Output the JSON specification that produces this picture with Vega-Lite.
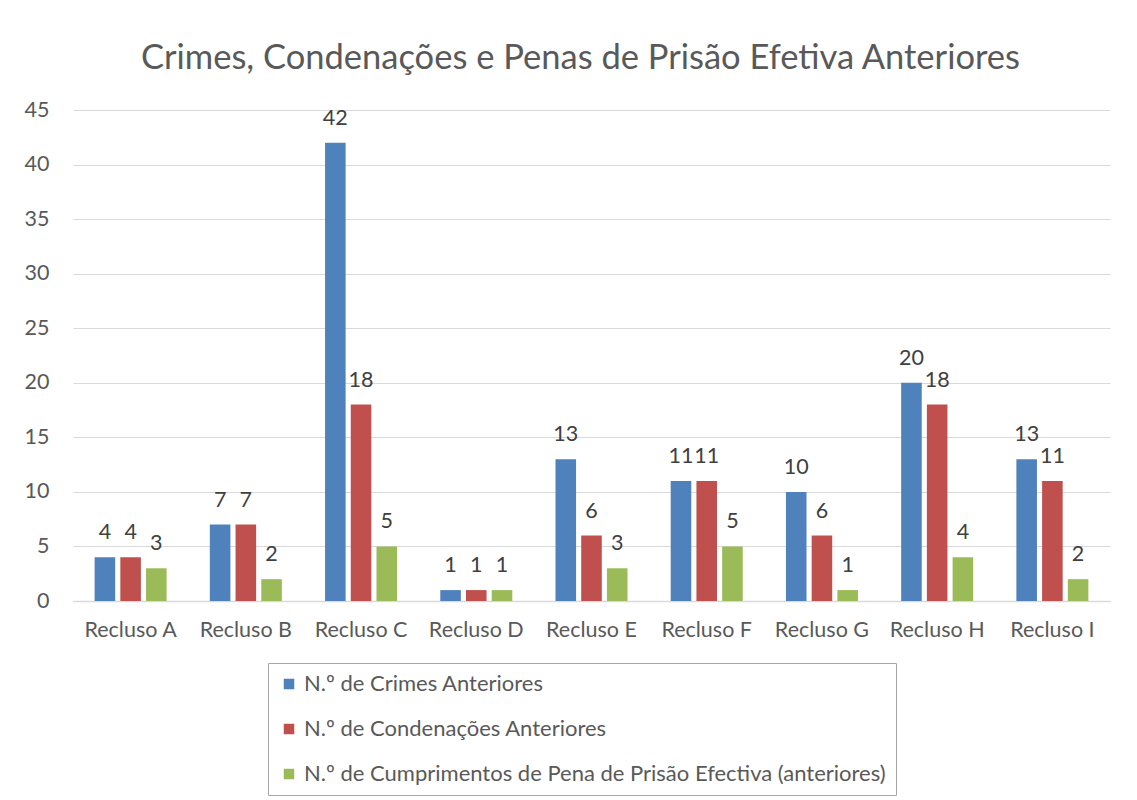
{
  "$schema": "https://vega.github.io/schema/vega-lite/v6.json",
  "autosize": {"type": "none"},
  "padding": {"left": 73, "top": 110, "right": 27, "bottom": 199},
  "width": 1037,
  "height": 491,
  "background": "white",
  "config": {"view": {"stroke": null}},
  "title": {
    "text": "Crimes, Condenações e Penas de Prisão Efetiva Anteriores",
    "font": "Lato",
    "fontSize": 34.5,
    "fontWeight": "normal",
    "color": "#595959",
    "anchor": "middle",
    "frame": "group",
    "dx": -11,
    "offset": 23
  },
  "datasets": {
    "rows": [
      {"recluso": "Recluso A", "serie": "N.º de Crimes Anteriores", "valor": 4},
      {"recluso": "Recluso A", "serie": "N.º de Condenações Anteriores", "valor": 4},
      {"recluso": "Recluso A", "serie": "N.º de Cumprimentos de Pena de Prisão Efectiva (anteriores)", "valor": 3},
      {"recluso": "Recluso B", "serie": "N.º de Crimes Anteriores", "valor": 7},
      {"recluso": "Recluso B", "serie": "N.º de Condenações Anteriores", "valor": 7},
      {"recluso": "Recluso B", "serie": "N.º de Cumprimentos de Pena de Prisão Efectiva (anteriores)", "valor": 2},
      {"recluso": "Recluso C", "serie": "N.º de Crimes Anteriores", "valor": 42},
      {"recluso": "Recluso C", "serie": "N.º de Condenações Anteriores", "valor": 18},
      {"recluso": "Recluso C", "serie": "N.º de Cumprimentos de Pena de Prisão Efectiva (anteriores)", "valor": 5},
      {"recluso": "Recluso D", "serie": "N.º de Crimes Anteriores", "valor": 1},
      {"recluso": "Recluso D", "serie": "N.º de Condenações Anteriores", "valor": 1},
      {"recluso": "Recluso D", "serie": "N.º de Cumprimentos de Pena de Prisão Efectiva (anteriores)", "valor": 1},
      {"recluso": "Recluso E", "serie": "N.º de Crimes Anteriores", "valor": 13},
      {"recluso": "Recluso E", "serie": "N.º de Condenações Anteriores", "valor": 6},
      {"recluso": "Recluso E", "serie": "N.º de Cumprimentos de Pena de Prisão Efectiva (anteriores)", "valor": 3},
      {"recluso": "Recluso F", "serie": "N.º de Crimes Anteriores", "valor": 11},
      {"recluso": "Recluso F", "serie": "N.º de Condenações Anteriores", "valor": 11},
      {"recluso": "Recluso F", "serie": "N.º de Cumprimentos de Pena de Prisão Efectiva (anteriores)", "valor": 5},
      {"recluso": "Recluso G", "serie": "N.º de Crimes Anteriores", "valor": 10},
      {"recluso": "Recluso G", "serie": "N.º de Condenações Anteriores", "valor": 6},
      {"recluso": "Recluso G", "serie": "N.º de Cumprimentos de Pena de Prisão Efectiva (anteriores)", "valor": 1},
      {"recluso": "Recluso H", "serie": "N.º de Crimes Anteriores", "valor": 20},
      {"recluso": "Recluso H", "serie": "N.º de Condenações Anteriores", "valor": 18},
      {"recluso": "Recluso H", "serie": "N.º de Cumprimentos de Pena de Prisão Efectiva (anteriores)", "valor": 4},
      {"recluso": "Recluso I", "serie": "N.º de Crimes Anteriores", "valor": 13},
      {"recluso": "Recluso I", "serie": "N.º de Condenações Anteriores", "valor": 11},
      {"recluso": "Recluso I", "serie": "N.º de Cumprimentos de Pena de Prisão Efectiva (anteriores)", "valor": 2}
    ]
  },
  "data": {"name": "rows"},
  "encoding": {
    "x": {
      "field": "recluso",
      "type": "nominal",
      "scale": {"paddingInner": 0.375, "paddingOuter": 0.1875},
      "axis": {
        "title": null,
        "labelAngle": 0,
        "labelFont": "Lato",
        "labelFontSize": 21.5,
        "labelColor": "#595959",
        "labelPadding": 18,
        "ticks": false,
        "domainColor": "#d9d9d9",
        "domainWidth": 1.5
      }
    },
    "xOffset": {
      "field": "serie",
      "type": "nominal",
      "sort": ["N.º de Crimes Anteriores", "N.º de Condenações Anteriores", "N.º de Cumprimentos de Pena de Prisão Efectiva (anteriores)"],
      "scale": {"paddingInner": 0.2, "paddingOuter": 0}
    },
    "y": {
      "field": "valor",
      "type": "quantitative",
      "scale": {"domain": [0, 45], "nice": false},
      "axis": {
        "title": null,
        "values": [0, 5, 10, 15, 20, 25, 30, 35, 40, 45],
        "labelFont": "Lato",
        "labelFontSize": 21.5,
        "labelColor": "#595959",
        "labelPadding": 24,
        "ticks": false,
        "domain": false,
        "gridColor": "#d9d9d9",
        "gridWidth": 1
      }
    }
  },
  "layer": [
    {
      "mark": {"type": "bar"},
      "encoding": {
        "color": {
          "field": "serie",
          "type": "nominal",
          "scale": {
            "domain": ["N.º de Crimes Anteriores", "N.º de Condenações Anteriores", "N.º de Cumprimentos de Pena de Prisão Efectiva (anteriores)"],
            "range": ["#4f81bd", "#c0504d", "#9bbb59"]
          },
          "legend": {
            "title": null,
            "orient": "none",
            "legendX": 195,
            "legendY": 553,
            "direction": "vertical",
            "symbolType": "square",
            "symbolSize": 110,
            "symbolStrokeWidth": 0,
            "labelFont": "Lato",
            "labelFontSize": 22,
            "labelColor": "#595959",
            "labelOffset": 4,
            "labelLimit": 1000,
            "rowPadding": 23,
            "padding": 10,
            "strokeColor": "#a6a6a6",
            "fillColor": "white"
          }
        }
      }
    },
    {
      "mark": {"type": "text", "baseline": "bottom", "dy": -13, "font": "Lato", "fontSize": 21.5, "color": "#404040"},
      "encoding": {
        "text": {"field": "valor", "type": "quantitative"}
      }
    }
  ]
}
